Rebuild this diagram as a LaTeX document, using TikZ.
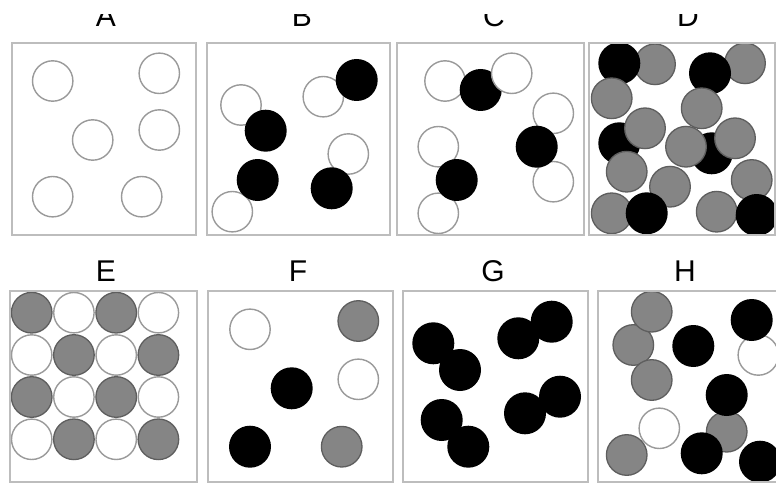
\documentclass[tikz,border=0pt]{standalone}
\usepackage{fontspec}
\setmainfont{Liberation Sans}
\definecolor{panelc}{HTML}{BDBDBD}
\definecolor{openc}{HTML}{9A9A9A}
\definecolor{grayfill}{HTML}{858585}
\definecolor{grayline}{HTML}{5E5E5E}
\tikzset{
  panelbox/.style={draw=panelc, line width=2.6pt},
  opencirc/.style={draw=openc, fill=white, line width=1.4pt},
  blackcirc/.style={fill=black},
  graycirc/.style={draw=grayline, fill=grayfill, line width=1.3pt},
  lbl/.style={font=\fontsize{30}{30}\selectfont, anchor=base, inner sep=0pt}
}
\newcommand\myO[1]{\path[opencirc] (#1) circle[radius=20.2pt];}
\newcommand\myB[1]{\path[blackcirc] (#1) circle[radius=21pt];}
\newcommand\myG[1]{\path[graycirc] (#1) circle[radius=20.3pt];}
\begin{document}
\begin{tikzpicture}[x=1pt,y=-1pt]
\useasboundingbox (0,0) rectangle (776,484);
\fill[white] (0,0) rectangle (776,484);
% top labels (clipped at top)
\begin{scope}
\clip (0,15) rectangle (776,40);
\node[lbl] (la) at (106,26.5) {A};
\node[lbl] (lb) at (302,26.5) {B};
\node[lbl] (lc) at (494,26.5) {C};
\node[lbl] (ld) at (688,26.5) {D};
\end{scope}
% bottom labels
\node[lbl] (le) at (106,281) {E};
\node[lbl] (lf) at (298,281) {F};
\node[lbl] (lg) at (493,281) {G};
\node[lbl] (lh) at (685,281) {H};
% Panel A
\myO{52.7,81} \myO{159.3,73.3} \myO{92.7,140} \myO{159.3,130} \myO{52.7,196.7} \myO{141.7,196.7}
% Panel B
\myO{241,105} \myO{323.3,96.7} \myO{348.3,154} \myO{232.3,211.7}
\myB{356.7,80} \myB{265.7,130.7} \myB{257.7,180} \myB{331.7,188.3}
% Panel C
\myO{445,81} \myB{480.7,90} \myO{511.7,73.3}
\myO{553.3,113.3} \myO{553.3,181.7} \myB{536.7,146.7}
\myO{438.3,146.7} \myO{438.3,213.3} \myB{456.7,180}
% Panel D
\myG{655,64.3} \myB{619.3,63.3} \myG{611.7,98.3}
\myG{745,63.3} \myB{710,73.3} \myG{701.7,108.3}
\myB{619.3,143.3} \myG{645,128.3}
\myB{711.7,153.3} \myG{686,146.7} \myG{735,138.3}
\myG{626.7,171.7} \myG{670,186.7} \myG{751.7,180}
\myG{611.7,213.3} \myB{646.7,213.3} \myG{716.7,211.7} \myB{756.7,215}
% Panel E (checkerboard)
\foreach \r [count=\i from 0] in {312.7,355,397,439.3}{
  \foreach \c [count=\j from 0] in {31.7,73.9,116.2,158.4}{
    \pgfmathtruncatemacro\myparity{mod(\i+\j,2)}
    \ifnum\myparity=0 \myG{\c,\r} \else \myO{\c,\r} \fi
  }
}
% Panel F
\myO{250,329.3} \myG{358.3,321} \myB{291.7,388.3} \myO{358.3,379.3} \myB{250,446.7} \myG{341.7,446.7}
% Panel G
\myB{433.3,343.3} \myB{460,370}
\myB{518.3,338.3} \myB{551.7,321.7}
\myB{441.7,420} \myB{468.3,446.7}
\myB{525,413.3} \myB{560,396.7}
% Panel H
\myG{633.3,345} \myG{651.7,311.7} \myG{651.7,380}
\myB{693.3,346} \myO{758.3,355} \myB{751.7,320}
\myO{659.3,428.3} \myG{626.7,455}
\myG{726.7,431.7} \myB{726.7,395} \myB{701.7,453.3} \myB{760,461.7}
% Panel frames
\draw[panelbox] (12,43) rectangle (196,235);
\draw[panelbox] (207,43) rectangle (390,235);
\draw[panelbox] (397,43) rectangle (584,235);
\draw[panelbox] (589,43) rectangle (775,235);
\draw[panelbox] (10,291) rectangle (197,482);
\draw[panelbox] (208,291) rectangle (393,482);
\draw[panelbox] (403,291) rectangle (588,482);
\draw[panelbox] (598,291) rectangle (790,482);
\end{tikzpicture}
\end{document}
